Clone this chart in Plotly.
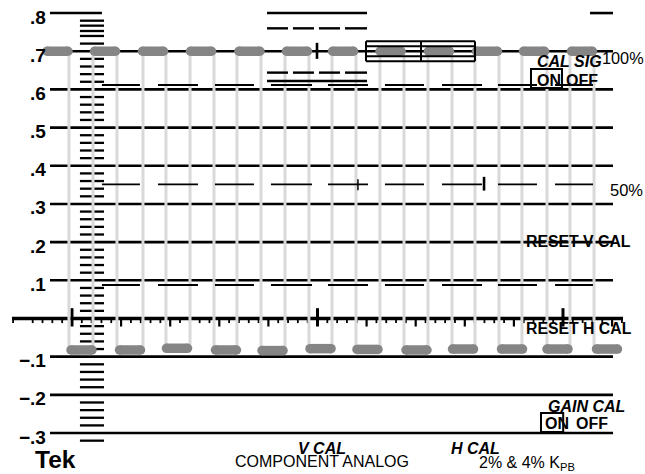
import plotly.graph_objects as go

# ---------------- data (x: graticule time units, y: volts) ----------------
grid_levels = [0.7, 0.6, 0.5, 0.4, 0.3, 0.2, 0.1, -0.1, -0.2, -0.3]
grid_span = [-2.24, 55.09]
line08_starts = [-2.24, 19.86, 52.75]
line08_ends = [3.05, 30.04, 55.09]
zero_span = [-6.11, 56.11]

ladder_levels = [0.78, 0.767, 0.753, 0.74, 0.72,
                 0.68, 0.66, 0.64, 0.62, 0.58, 0.56, 0.54, 0.52,
                 0.48, 0.46, 0.44, 0.42, 0.38, 0.36, 0.34, 0.32,
                 0.28, 0.26, 0.24, 0.22, 0.18, 0.16, 0.14, 0.12,
                 0.08, 0.06, 0.04, 0.02, -0.02, -0.04, -0.06, -0.08,
                 -0.12, -0.14, -0.16, -0.18, -0.22, -0.24, -0.26, -0.28, -0.32]
ladder_span = [0.81, 3.26]

gray_verticals = [-0.31, 2.14, 4.58, 7.23, 9.57, 12.02, 14.46, 16.80, 19.25, 21.69,
                  24.13, 26.48, 28.92, 31.36, 33.81, 36.25, 38.70, 41.04, 43.48,
                  45.82, 48.37, 50.71, 53.16]
top_level = 0.7
top_pill_centers = [-1.48, 3.36, 8.25, 13.14, 18.07, 22.91, 27.60, 32.44, 37.37,
                    42.26, 47.05, 51.93]
bottom_pill_centers = [0.97, 5.91, 10.69, 15.68, 20.42, 25.31, 30.09, 35.08, 39.82,
                       44.81, 49.44, 54.48]
bottom_pill_levels = [-0.0825, -0.0825, -0.078, -0.0825, -0.084, -0.079, -0.081,
                      -0.0825, -0.080, -0.080, -0.080, -0.080]
pill_half = 1.07

dash9_starts = [3.05, 8.76, 14.56, 20.26, 26.07, 31.87, 37.68, 43.38, 49.19]
dash9_ends = [6.92, 12.83, 18.53, 24.44, 30.14, 35.85, 41.75, 47.35, 53.05]
dash9_levels = [0.6116, 0.3515, 0.0877]

dash4_starts = [19.86, 22.50, 25.15, 27.80]
dash4_ends = [22.00, 24.64, 27.29, 30.04]
dash4_levels = [0.76, 0.644]
solid_0622 = [19.86, 30.04]
level_0622 = 0.622

box_edges_x = [29.94, 35.54, 41.04]
box_levels = [0.674, 0.687, 0.713, 0.726]

tick07 = [24.95, 0.68, 0.722]
marks035 = [[29.12, 0.336, 0.365], [41.96, 0.335, 0.371]]

major_ticks = [0, 25, 50]
medium_ticks = [5, 10, 15, 20, 30, 35, 40, 45, 55]
small_ticks = [t for t in range(-6, 57) if t % 5 != 0]

y_labels = [".8", ".7", ".6", ".5", ".4", ".3", ".2", ".1", "−.1", "−.2", "−.3"]
y_label_vals = [0.8, 0.7, 0.6, 0.5, 0.4, 0.3, 0.2, 0.1, -0.1, -0.2, -0.3]

on_box_top = [46.74, 49.90, 0.6037, 0.6535]
on_box_bottom = [47.76, 50.02, -0.2973, -0.2475]

FONT = "Liberation Sans, Arial, sans-serif"
BLACK = "#000000"
PILL = "#858585"
LIGHT = "#d9d9d9"


def segs(x0s, x1s, y0s, y1s, width, color=BLACK):
    xs, ys = [], []
    for a, b, c, d in zip(x0s, x1s, y0s, y1s):
        xs += [a, b, None]
        ys += [c, d, None]
    return go.Scatter(x=xs, y=ys, mode="lines", line=dict(color=color, width=width),
                      hoverinfo="skip", showlegend=False)


fig = go.Figure()

# gridlines
n = len(grid_levels)
fig.add_trace(segs([grid_span[0]] * n, [grid_span[1]] * n, grid_levels, grid_levels, 2.6))
fig.add_trace(segs(line08_starts, line08_ends, [0.8] * 3, [0.8] * 3, 2.6))
fig.add_trace(segs([zero_span[0]], [zero_span[1]], [0], [0], 3.6))
# zero-axis ticks
fig.add_trace(segs(small_ticks, small_ticks, [0] * len(small_ticks), [-0.012] * len(small_ticks), 1.8))
fig.add_trace(segs(medium_ticks, medium_ticks, [0] * len(medium_ticks), [-0.021] * len(medium_ticks), 2.2))
fig.add_trace(segs(major_ticks, major_ticks, [0.027] * 3, [-0.021] * 3, 3))
# ladder
m = len(ladder_levels)
fig.add_trace(segs([ladder_span[0]] * m, [ladder_span[1]] * m, ladder_levels, ladder_levels, 2.3))
# light verticals
g = len(gray_verticals)
fig.add_trace(segs(gray_verticals, gray_verticals, [top_level] * g, [-0.08] * g, 3, LIGHT))
# dashed lines
for lv, w in zip(dash9_levels, [2.0, 1.8, 2.2]):
    fig.add_trace(segs(dash9_starts, dash9_ends, [lv] * 9, [lv] * 9, w))
for lv in dash4_levels:
    fig.add_trace(segs(dash4_starts, dash4_ends, [lv] * 4, [lv] * 4, 2.4))
fig.add_trace(segs([solid_0622[0]], [solid_0622[1]], [level_0622], [level_0622], 2.4))
# marks
fig.add_trace(segs([tick07[0]], [tick07[0]], [tick07[1]], [tick07[2]], 2.6))
fig.add_trace(segs([marks035[0][0]], [marks035[0][0]], [marks035[0][1]], [marks035[0][2]], 1.5))
fig.add_trace(segs([marks035[1][0]], [marks035[1][0]], [marks035[1][1]], [marks035[1][2]], 2.6))


def pills(centers, levels):
    xs, ys = [], []
    for c, l in zip(centers, levels):
        xs += [c - pill_half, c + pill_half, None]
        ys += [l, l, None]
    return go.Scatter(x=xs, y=ys, mode="lines+markers",
                      line=dict(color=PILL, width=9.5),
                      marker=dict(color=PILL, size=9.5, line=dict(width=0)),
                      hoverinfo="skip", showlegend=False)


fig.add_trace(pills(top_pill_centers, [top_level] * len(top_pill_centers)))
fig.add_trace(pills(bottom_pill_centers, bottom_pill_levels))

# boxes at 0.7
bx0, bx1 = box_edges_x[0], box_edges_x[-1]
fig.add_trace(segs([bx0] * 4, [bx1] * 4, box_levels, box_levels, 2.0))
fig.add_trace(segs(box_edges_x, box_edges_x, [box_levels[0]] * 3, [box_levels[-1]] * 3, 2.0))

# ON boxes
for b in (on_box_top, on_box_bottom):
    fig.add_shape(type="rect", x0=b[0], x1=b[1], y0=b[2], y1=b[3],
                  line=dict(color=BLACK, width=2), fillcolor="rgba(0,0,0,0)", layer="above")


# ---------------- text ----------------
def txt(x, y, s, size, xanchor="center", yshift=0, bold=False, italic=False):
    if italic:
        s = "<i>" + s + "</i>"
    if bold:
        s = "<b>" + s + "</b>"
    fig.add_annotation(x=x, y=y, text=s, showarrow=False, xanchor=xanchor, yanchor="middle",
                       yshift=yshift, borderpad=0,
                       font=dict(family=FONT, size=size, color=BLACK))


for lab, v in zip(y_labels, y_label_vals):
    txt(-2.55, v, lab, 19, xanchor="right", yshift=-4, bold=True)

txt(-1.68, -0.369, "Tek", 24.5, bold=True)
txt(25.46, -0.3405, "V CAL", 16, bold=True, italic=True)
txt(25.46, -0.3755, "COMPONENT ANALOG", 16)
txt(41.09, -0.3405, "H CAL", 16, bold=True, italic=True)
txt(41.34, -0.380, "2% &amp; 4% K<sub>PB</sub>", 16, xanchor="left")
txt(54.07, 0.6744, "CAL SIG", 16, xanchor="right", bold=True, italic=True)
txt(53.9, 0.681, "100%", 16.3, xanchor="left")
txt(48.57, 0.6234, "ON", 16, bold=True)
txt(50.25, 0.6234, "OFF", 16, xanchor="left", bold=True)
txt(54.68, 0.3366, "50%", 16.5, xanchor="left")
txt(46.13, 0.2004, "RESET V CAL", 15.8, xanchor="left", bold=True)
txt(46.13, -0.0275, "RESET H CAL", 15.8, xanchor="left", bold=True)
txt(56.42, -0.2292, "GAIN CAL", 16, xanchor="right", bold=True, italic=True)
txt(49.39, -0.2763, "ON", 16, bold=True)
txt(51.2, -0.2763, "OFF", 16, xanchor="left", bold=True)

fig.update_layout(
    width=645, height=474, autosize=False,
    margin=dict(l=0, r=0, t=0, b=0, pad=0),
    paper_bgcolor="white", plot_bgcolor="white",
    xaxis=dict(visible=False, range=[-7.33, 58.35], fixedrange=True),
    yaxis=dict(visible=False, range=[-0.4073, 0.8342], fixedrange=True),
    showlegend=False,
)

fig.write_html("out.html")
